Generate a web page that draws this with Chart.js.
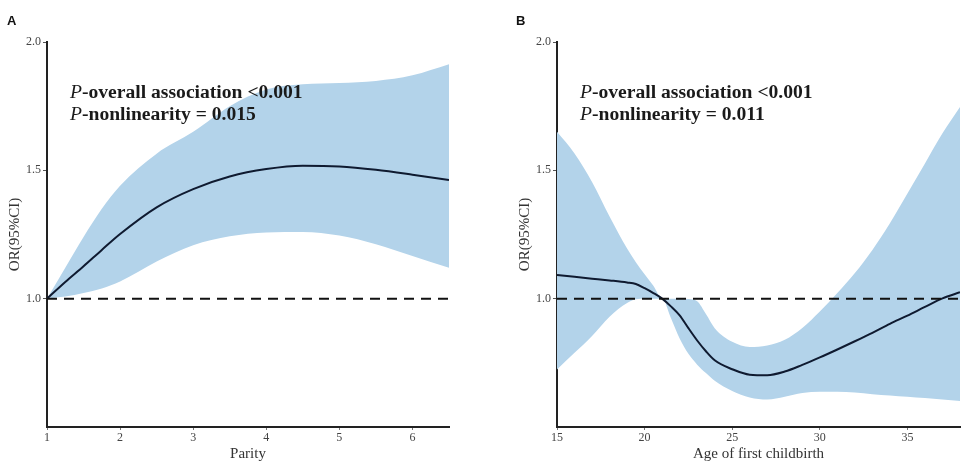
<!DOCTYPE html>
<html>
<head>
<meta charset="utf-8">
<script src="https://cdn.jsdelivr.net/npm/chart.js@4"></script>
<style>
  html, body { margin: 0; padding: 0; background: #fff; }
  body { width: 974px; height: 476px; position: relative; overflow: hidden; }
  .panel { position: absolute; top: 0; height: 476px; }
  .letter { position: absolute; font: bold 13px "Liberation Sans", Arial, sans-serif; color: #111; line-height: 15px; }
  .annot { position: absolute; font: bold 19.6px "Liberation Serif", "Times New Roman", serif; color: #1a1a1a; line-height: 22px; white-space: nowrap; }
  .annot i { font-weight: normal; }
</style>
</head>
<body>
<div class="panel" id="pa" style="left:0;width:490px;"><canvas id="ca"></canvas></div>
<div class="panel" id="pb" style="left:510px;width:464px;"><canvas id="cb"></canvas></div>
<div class="letter" style="left:7px;top:13px;">A</div>
<div class="letter" style="left:516px;top:13px;">B</div>
<div class="annot" style="left:70px;top:81px;"><i>P</i>-overall association &lt;0.001<br><i>P</i>-nonlinearity = 0.015</div>
<div class="annot" style="left:580px;top:81px;"><i>P</i>-overall association &lt;0.001<br><i>P</i>-nonlinearity = 0.011</div>
<script>
// ---- Panel A: Parity ----
const parityX     = [1, 1.25, 1.5, 1.75, 2, 2.5, 3, 3.5, 4, 4.5, 5, 5.5, 6, 6.5];
const parityOR    = [1.0, 1.065, 1.126, 1.19, 1.252, 1.356, 1.427, 1.476, 1.505, 1.518, 1.515, 1.502, 1.483, 1.462];
const parityUpper = [1.0, 1.12, 1.24, 1.35, 1.44, 1.565, 1.65, 1.75, 1.815, 1.835, 1.84, 1.848, 1.87, 1.913];
const parityLower = [1.0, 1.008, 1.022, 1.04, 1.067, 1.145, 1.208, 1.243, 1.258, 1.26, 1.246, 1.212, 1.166, 1.12];

// ---- Panel B: Age of first childbirth ----
const ageX     = [15, 16, 17, 18, 19, 19.5, 20, 20.5, 21, 21.5, 22, 22.5, 23, 23.5, 24, 25, 26, 27, 28, 29, 30, 31, 32, 33, 34, 35, 36, 37, 38];
const ageOR    = [1.092, 1.085, 1.078, 1.071, 1.063, 1.057, 1.041, 1.022, 1.0, 0.97, 0.935, 0.885, 0.837, 0.795, 0.76, 0.725, 0.704, 0.702, 0.716, 0.742, 0.771, 0.802, 0.834, 0.867, 0.902, 0.934, 0.968, 1.001, 1.025];
const ageUpper = [1.65, 1.566, 1.455, 1.32, 1.195, 1.142, 1.095, 1.05, 1.0, 1.0, 1.0, 0.999, 0.99, 0.94, 0.885, 0.832, 0.812, 0.818, 0.84, 0.886, 0.95, 1.022, 1.1, 1.19, 1.294, 1.41, 1.527, 1.644, 1.747];
const ageLower = [0.724, 0.789, 0.855, 0.93, 0.983, 0.998, 1.0, 1.0, 1.0, 0.925, 0.845, 0.785, 0.743, 0.71, 0.68, 0.64, 0.615, 0.607, 0.618, 0.632, 0.637, 0.637, 0.634, 0.628, 0.623, 0.618, 0.613, 0.607, 0.601];

// ---- Axis settings ----
const yTicks = [0.5, 1.0, 1.5, 2.0];
const yLabelled = [1.0, 1.5, 2.0];
const refOR = 1.0;

const BAND = '#b3d3ea';
const LINE = '#0f1a30';
const AXIS = '#222';
const serif = '"Liberation Serif", "Times New Roman", serif';

function pts(xs, ys) { return xs.map((x, i) => ({ x: x, y: ys[i] })); }

function makeChart(canvasId, xs, mid, up, lo, xMin, xMax, xStep, xTitle, padRight) {
  return new Chart(document.getElementById(canvasId), {
    type: 'line',
    data: {
      datasets: [
        { data: [{ x: xMin, y: refOR }, { x: xMax, y: refOR }], borderColor: '#111', borderWidth: 2,
          borderDash: [10, 7], pointRadius: 0, fill: false, order: 0 },
        { data: pts(xs, mid), borderColor: LINE, borderWidth: 2, pointRadius: 0,
          cubicInterpolationMode: 'monotone', fill: false, order: 1 },
        { data: pts(xs, up), borderWidth: 0, borderColor: 'rgba(0,0,0,0)', pointRadius: 0,
          cubicInterpolationMode: 'monotone', backgroundColor: BAND, fill: 3, order: 2 },
        { data: pts(xs, lo), borderWidth: 0, borderColor: 'rgba(0,0,0,0)', pointRadius: 0,
          cubicInterpolationMode: 'monotone', fill: false, order: 3 }
      ]
    },
    options: {
      responsive: true,
      maintainAspectRatio: false,
      animation: false,
      events: [],
      layout: { padding: { top: 42, right: padRight, bottom: 0, left: 0 } },
      plugins: { legend: { display: false }, tooltip: { enabled: false } },
      scales: {
        x: {
          type: 'linear', min: xMin, max: xMax,
          afterFit: s => { s.height = 49; },
          border: { display: true, color: AXIS, width: 2 },
          grid: { drawOnChartArea: false, drawTicks: true, tickLength: 3, color: '#777', lineWidth: 1 },
          ticks: { stepSize: xStep, includeBounds: false, padding: 1, color: '#444', maxRotation: 0,
                   font: { family: serif, size: 12 } },
          title: { display: true, text: xTitle, color: '#333', padding: { top: 0, bottom: 13 },
                   font: { family: serif, size: 15 } }
        },
        y: {
          type: 'linear', min: yTicks[0], max: yTicks[yTicks.length - 1],
          afterFit: s => { s.width = 47; },
          afterBuildTicks: s => { s.ticks = yTicks.map(v => ({ value: v })); },
          border: { display: true, color: AXIS, width: 2 },
          grid: { drawOnChartArea: false, drawTicks: true, tickLength: 4, lineWidth: 1,
                  color: c => (c.tick && yLabelled.includes(c.tick.value)) ? '#555' : 'rgba(0,0,0,0)' },
          ticks: { padding: 2, color: '#444', font: { family: serif, size: 12 },
                   callback: v => yLabelled.includes(v) ? v.toFixed(1) : '' },
          title: { display: true, text: 'OR(95%CI)', color: '#333', padding: { top: 6, bottom: 0 },
                   font: { family: serif, size: 15 } }
        }
      }
    }
  });
}

makeChart('ca', parityX, parityOR, parityUpper, parityLower, 1, 6.5, 1, 'Parity', 41);
makeChart('cb', ageX, ageOR, ageUpper, ageLower, 15, 38, 5, 'Age of first childbirth', 14);
</script>
</body>
</html>
